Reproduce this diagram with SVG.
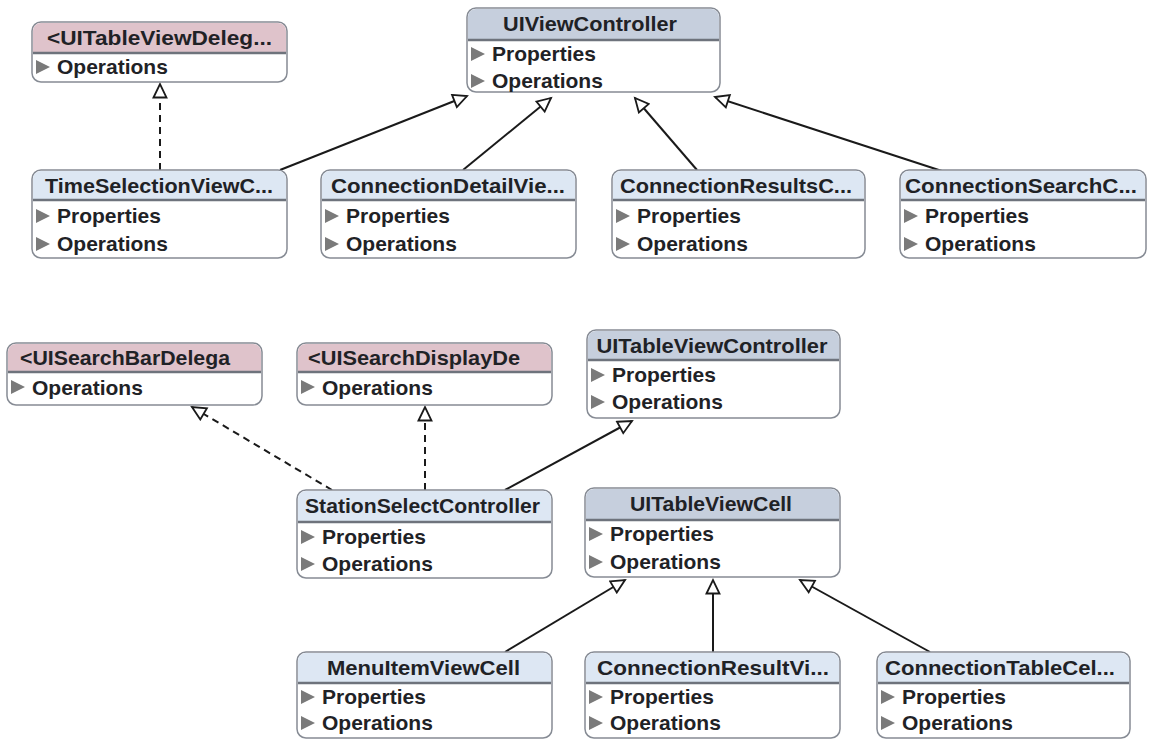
<svg xmlns="http://www.w3.org/2000/svg" width="1150" height="740" viewBox="0 0 1150 740">
  <defs>
    <style>
      .box { fill: #ffffff; stroke: #868b94; stroke-width: 1.5; }
      .hdr-cls { fill: #dde7f3; }
      .hdr-fw { fill: #c6cfdd; }
      .hdr-pro { fill: #dfc3cb; }
      .sep { stroke: #6e737c; stroke-width: 2.5; }
      .title { font-family: "Liberation Sans", Arial, sans-serif; font-size: 21px; font-weight: bold; fill: #1f2226; text-anchor: middle; }
      .row { font-family: "Liberation Sans", Arial, sans-serif; font-size: 21px; font-weight: bold; fill: #1f2226; }
      .tri { fill: #7a7a7a; }
      .edge { fill: none; stroke: #1a1a1a; stroke-width: 2; }
      .dash { stroke-dasharray: 7 5; }
    </style>
    <marker id="inherit" markerWidth="18" markerHeight="16" refX="15" refY="8" orient="auto" markerUnits="userSpaceOnUse">
      <path d="M1.5,1.5 L15,8 L1.5,14.5 Z" fill="#ffffff" stroke="#1a1a1a" stroke-width="1.8"/>
    </marker>
  </defs>

  <rect width="1150" height="740" fill="#ffffff"/>

  <!-- generalization / realization connectors -->
  <g id="connectors">
    <line class="edge dash" x1="160" y1="170" x2="160" y2="84" marker-end="url(#inherit)"/>
    <line class="edge" x1="280" y1="170" x2="467" y2="96" marker-end="url(#inherit)"/>
    <line class="edge" x1="463" y1="170" x2="551" y2="98" marker-end="url(#inherit)"/>
    <line class="edge" x1="697" y1="170" x2="635" y2="98" marker-end="url(#inherit)"/>
    <line class="edge" x1="945" y1="172" x2="715" y2="97" marker-end="url(#inherit)"/>
    <line class="edge dash" x1="332" y1="490" x2="192" y2="407" marker-end="url(#inherit)"/>
    <line class="edge dash" x1="425" y1="490" x2="425" y2="407" marker-end="url(#inherit)"/>
    <line class="edge" x1="505" y1="490" x2="632" y2="421" marker-end="url(#inherit)"/>
    <line class="edge" x1="505" y1="652" x2="625" y2="580" marker-end="url(#inherit)"/>
    <line class="edge" x1="713" y1="652" x2="713" y2="580" marker-end="url(#inherit)"/>
    <line class="edge" x1="930" y1="652" x2="800" y2="580" marker-end="url(#inherit)"/>
  </g>

  <!-- protocol: UITableViewDelegate -->
  <g id="UITableViewDelegate">
    <rect class="box" x="32" y="22" width="255" height="60" rx="9"/>
    <path class="hdr-pro" d="M41,23 H278 a8,8 0 0 1 8,8 V53 H33 V31 a8,8 0 0 1 8,-8 Z"/>
    <line class="sep" x1="33" y1="53" x2="286" y2="53"/>
    <text class="title" x="159.5" y="45" textLength="225" lengthAdjust="spacingAndGlyphs">&lt;UITableViewDeleg...</text>
    <path class="tri" d="M36,60 L36,74 L50,67 Z"/>
    <text class="row" x="57" y="74">Operations</text>
  </g>

  <!-- class: UIViewController -->
  <g id="UIViewController">
    <rect class="box" x="467" y="8" width="253" height="84" rx="9"/>
    <path class="hdr-fw" d="M476,9 H711 a8,8 0 0 1 8,8 V40 H468 V17 a8,8 0 0 1 8,-8 Z"/>
    <line class="sep" x1="468" y1="40" x2="719" y2="40"/>
    <text class="title" x="590" y="31" textLength="174" lengthAdjust="spacingAndGlyphs">UIViewController</text>
    <path class="tri" d="M471,47 L471,61 L485,54 Z"/>
    <text class="row" x="492" y="61">Properties</text>
    <path class="tri" d="M471,74 L471,88 L485,81 Z"/>
    <text class="row" x="492" y="88">Operations</text>
  </g>

  <!-- class: TimeSelectionViewController -->
  <g id="TimeSelectionViewController">
    <rect class="box" x="32" y="170" width="255" height="88" rx="9"/>
    <path class="hdr-cls" d="M41,171 H278 a8,8 0 0 1 8,8 V200 H33 V179 a8,8 0 0 1 8,-8 Z"/>
    <line class="sep" x1="33" y1="200" x2="286" y2="200"/>
    <text class="title" x="159" y="193" textLength="228" lengthAdjust="spacingAndGlyphs">TimeSelectionViewC...</text>
    <path class="tri" d="M36,209 L36,223 L50,216 Z"/>
    <text class="row" x="57" y="223">Properties</text>
    <path class="tri" d="M36,237 L36,251 L50,244 Z"/>
    <text class="row" x="57" y="251">Operations</text>
  </g>

  <!-- class: ConnectionDetailViewController -->
  <g id="ConnectionDetailViewController">
    <rect class="box" x="321" y="170" width="255" height="88" rx="9"/>
    <path class="hdr-cls" d="M330,171 H567 a8,8 0 0 1 8,8 V200 H322 V179 a8,8 0 0 1 8,-8 Z"/>
    <line class="sep" x1="322" y1="200" x2="575" y2="200"/>
    <text class="title" x="448" y="193" textLength="234" lengthAdjust="spacingAndGlyphs">ConnectionDetailVie...</text>
    <path class="tri" d="M325,209 L325,223 L339,216 Z"/>
    <text class="row" x="346" y="223">Properties</text>
    <path class="tri" d="M325,237 L325,251 L339,244 Z"/>
    <text class="row" x="346" y="251">Operations</text>
  </g>

  <!-- class: ConnectionResultsController -->
  <g id="ConnectionResultsController">
    <rect class="box" x="612" y="170" width="253" height="88" rx="9"/>
    <path class="hdr-cls" d="M621,171 H856 a8,8 0 0 1 8,8 V200 H613 V179 a8,8 0 0 1 8,-8 Z"/>
    <line class="sep" x1="613" y1="200" x2="864" y2="200"/>
    <text class="title" x="736" y="193" textLength="232" lengthAdjust="spacingAndGlyphs">ConnectionResultsC...</text>
    <path class="tri" d="M616,209 L616,223 L630,216 Z"/>
    <text class="row" x="637" y="223">Properties</text>
    <path class="tri" d="M616,237 L616,251 L630,244 Z"/>
    <text class="row" x="637" y="251">Operations</text>
  </g>

  <!-- class: ConnectionSearchController -->
  <g id="ConnectionSearchController">
    <rect class="box" x="900" y="170" width="246" height="88" rx="9"/>
    <path class="hdr-cls" d="M909,171 H1137 a8,8 0 0 1 8,8 V200 H901 V179 a8,8 0 0 1 8,-8 Z"/>
    <line class="sep" x1="901" y1="200" x2="1145" y2="200"/>
    <text class="title" x="1021" y="193" textLength="232" lengthAdjust="spacingAndGlyphs">ConnectionSearchC...</text>
    <path class="tri" d="M904,209 L904,223 L918,216 Z"/>
    <text class="row" x="925" y="223">Properties</text>
    <path class="tri" d="M904,237 L904,251 L918,244 Z"/>
    <text class="row" x="925" y="251">Operations</text>
  </g>

  <!-- protocol: UISearchBarDelegate -->
  <g id="UISearchBarDelegate">
    <rect class="box" x="7" y="343" width="255" height="62" rx="9"/>
    <path class="hdr-pro" d="M16,344 H253 a8,8 0 0 1 8,8 V372 H8 V352 a8,8 0 0 1 8,-8 Z"/>
    <line class="sep" x1="8" y1="372" x2="261" y2="372"/>
    <text class="title" x="125" y="365" textLength="210" lengthAdjust="spacingAndGlyphs">&lt;UISearchBarDelega</text>
    <path class="tri" d="M11,380 L11,394 L25,387 Z"/>
    <text class="row" x="32" y="395">Operations</text>
  </g>

  <!-- protocol: UISearchDisplayDelegate -->
  <g id="UISearchDisplayDelegate">
    <rect class="box" x="297" y="343" width="255" height="62" rx="9"/>
    <path class="hdr-pro" d="M306,344 H543 a8,8 0 0 1 8,8 V372 H298 V352 a8,8 0 0 1 8,-8 Z"/>
    <line class="sep" x1="298" y1="372" x2="551" y2="372"/>
    <text class="title" x="414" y="365" textLength="212" lengthAdjust="spacingAndGlyphs">&lt;UISearchDisplayDe</text>
    <path class="tri" d="M301,380 L301,394 L315,387 Z"/>
    <text class="row" x="322" y="395">Operations</text>
  </g>

  <!-- class: UITableViewController -->
  <g id="UITableViewController">
    <rect class="box" x="587" y="330" width="253" height="88" rx="9"/>
    <path class="hdr-fw" d="M596,331 H831 a8,8 0 0 1 8,8 V360 H588 V339 a8,8 0 0 1 8,-8 Z"/>
    <line class="sep" x1="588" y1="360" x2="839" y2="360"/>
    <text class="title" x="712" y="353" textLength="231" lengthAdjust="spacingAndGlyphs">UITableViewController</text>
    <path class="tri" d="M591,368 L591,382 L605,375 Z"/>
    <text class="row" x="612" y="382">Properties</text>
    <path class="tri" d="M591,395 L591,409 L605,402 Z"/>
    <text class="row" x="612" y="409">Operations</text>
  </g>

  <!-- class: StationSelectController -->
  <g id="StationSelectController">
    <rect class="box" x="297" y="490" width="255" height="88" rx="9"/>
    <path class="hdr-cls" d="M306,491 H543 a8,8 0 0 1 8,8 V522 H298 V499 a8,8 0 0 1 8,-8 Z"/>
    <line class="sep" x1="298" y1="522" x2="551" y2="522"/>
    <text class="title" x="422.5" y="513" textLength="235" lengthAdjust="spacingAndGlyphs">StationSelectController</text>
    <path class="tri" d="M301,530 L301,544 L315,537 Z"/>
    <text class="row" x="322" y="544">Properties</text>
    <path class="tri" d="M301,557 L301,571 L315,564 Z"/>
    <text class="row" x="322" y="571">Operations</text>
  </g>

  <!-- class: UITableViewCell -->
  <g id="UITableViewCell">
    <rect class="box" x="585" y="488" width="255" height="89" rx="9"/>
    <path class="hdr-fw" d="M594,489 H831 a8,8 0 0 1 8,8 V520 H586 V497 a8,8 0 0 1 8,-8 Z"/>
    <line class="sep" x1="586" y1="520" x2="839" y2="520"/>
    <text class="title" x="711" y="511" textLength="162" lengthAdjust="spacingAndGlyphs">UITableViewCell</text>
    <path class="tri" d="M589,527 L589,541 L603,534 Z"/>
    <text class="row" x="610" y="541">Properties</text>
    <path class="tri" d="M589,555 L589,569 L603,562 Z"/>
    <text class="row" x="610" y="569">Operations</text>
  </g>

  <!-- class: MenuItemViewCell -->
  <g id="MenuItemViewCell">
    <rect class="box" x="297" y="652" width="255" height="86" rx="9"/>
    <path class="hdr-cls" d="M306,653 H543 a8,8 0 0 1 8,8 V683 H298 V661 a8,8 0 0 1 8,-8 Z"/>
    <line class="sep" x1="298" y1="683" x2="551" y2="683"/>
    <text class="title" x="423.5" y="675" textLength="193" lengthAdjust="spacingAndGlyphs">MenuItemViewCell</text>
    <path class="tri" d="M301,690 L301,704 L315,697 Z"/>
    <text class="row" x="322" y="704">Properties</text>
    <path class="tri" d="M301,716 L301,730 L315,723 Z"/>
    <text class="row" x="322" y="730">Operations</text>
  </g>

  <!-- class: ConnectionResultViewCell -->
  <g id="ConnectionResultViewCell">
    <rect class="box" x="585" y="652" width="255" height="86" rx="9"/>
    <path class="hdr-cls" d="M594,653 H831 a8,8 0 0 1 8,8 V683 H586 V661 a8,8 0 0 1 8,-8 Z"/>
    <line class="sep" x1="586" y1="683" x2="839" y2="683"/>
    <text class="title" x="713" y="675" textLength="232" lengthAdjust="spacingAndGlyphs">ConnectionResultVi...</text>
    <path class="tri" d="M589,690 L589,704 L603,697 Z"/>
    <text class="row" x="610" y="704">Properties</text>
    <path class="tri" d="M589,716 L589,730 L603,723 Z"/>
    <text class="row" x="610" y="730">Operations</text>
  </g>

  <!-- class: ConnectionTableCell -->
  <g id="ConnectionTableCell">
    <rect class="box" x="877" y="652" width="253" height="86" rx="9"/>
    <path class="hdr-cls" d="M886,653 H1121 a8,8 0 0 1 8,8 V683 H878 V661 a8,8 0 0 1 8,-8 Z"/>
    <line class="sep" x1="878" y1="683" x2="1129" y2="683"/>
    <text class="title" x="1000" y="675" textLength="230" lengthAdjust="spacingAndGlyphs">ConnectionTableCel...</text>
    <path class="tri" d="M881,690 L881,704 L895,697 Z"/>
    <text class="row" x="902" y="704">Properties</text>
    <path class="tri" d="M881,716 L881,730 L895,723 Z"/>
    <text class="row" x="902" y="730">Operations</text>
  </g>
</svg>
